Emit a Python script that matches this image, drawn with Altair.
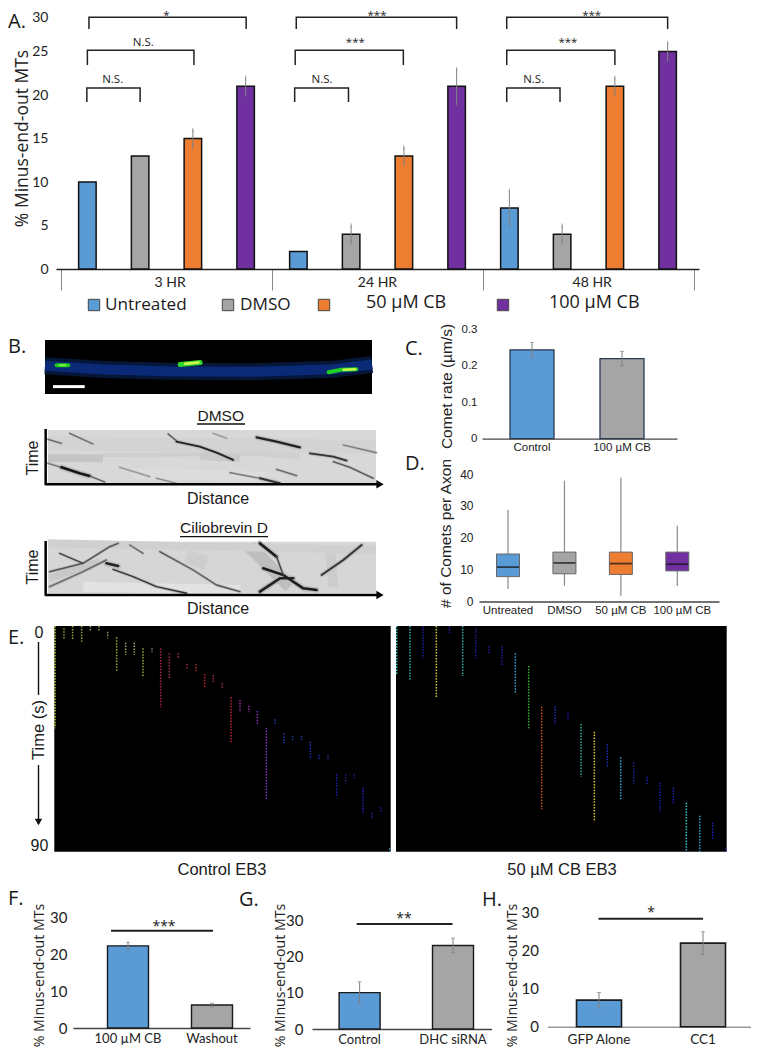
import altair as alt
import pandas as pd

# ---------- palette ----------
BLUE, GRAY, ORANGE, PURPLE = "#5B9BD5", "#A5A5A5", "#ED7D31", "#7030A0"
SANS, CAL, OPEN = "Liberation Sans", "Lato", "Open Sans"
W, H = 743, 1042

# ---------- A ----------
A_values = [10, 13, 15, 21, 2, 4, 13, 21, 7, 4, 21, 25]
A_errors = [0, 0, 1, 1, 0, 1, 1, 2, 2, 1, 1, 1]
A_colors = [BLUE, GRAY, ORANGE, PURPLE] * 3
A_groups = ["3 HR", "24 HR", "48 HR"]
A_group_pos = [2.07, 6.0, 10.07]
A_bracket_x0 = [0.53, 0.50, 0.49, 4.46, 4.44, 4.43, 8.45, 8.45, 8.45]
A_bracket_x1 = [3.51, 2.52, 1.50, 7.50, 6.49, 5.45, 11.50, 10.50, 9.46]
A_bracket_top = [28.95, 25.14, 20.8] * 3
A_bracket_leg = [27.6, 23.45, 19.2] * 3
A_bracket_txt = ["*", "N.S.", "N.S.", "***", "***", "N.S.", "***", "***", "N.S."]
A_bracket_tx = [2.0, 1.56, 0.98, 5.99, 5.58, 4.95, 10.06, 9.61, 8.96]
A_bracket_ty = [29.05, 26.0, 21.75, 29.05, 26.0, 21.75, 29.05, 26.0, 21.75]

# ---------- C ----------
C_cats = ["Control", "100 µM CB"]
C_values = [0.243, 0.219]
C_errors = [0.02, 0.02]
# ---------- D ----------
D_cats = ["Untreated", "DMSO", "50 µM CB", "100 µM CB"]
D_low = [3.9, 4.9, 1.8, 4.9]
D_q1 = [7.8, 8.7, 8.5, 9.6]
D_med = [10.8, 12.1, 11.9, 11.7]
D_q3 = [14.9, 15.5, 15.5, 15.5]
D_high = [28.8, 37.9, 38.8, 23.8]
D_colors = [BLUE, GRAY, ORANGE, PURPLE]
# ---------- F G H ----------
F_cats, F_values, F_errors = ["100 µM CB", "Washout"], [22.2, 6.2], [1.0, 0.5]
G_cats, G_values, G_errors = ["Control", "DHC siRNA"], [10, 23], [3, 2]
H_cats, H_values, H_errors = ["GFP Alone", "CC1"], [7, 22], [2, 3]

# ---------- B: micrograph, read in image units ----------
B_band = [(135, 108), (300, 118), (500, 124), (750, 126), (1000, 118), (1115, 104)]
B_comets = [
    ([(170, 106), (205, 106)], 4, "#1ec81e"),
    ([(178, 106), (197, 106)], 2, "#80f040"),
    ([(540, 104), (600, 98)], 5, "#2ed82a"),
    ([(555, 102), (595, 98)], 2.5, "#d4f850"),
    ([(985, 127), (1020, 120), (1068, 118)], 4, "#22d022"),
    ([(1030, 120), (1065, 118)], 2.5, "#c8f850"),
]
B_scalebar = [(159, 170), (254, 170)]
# ---------- B: kymographs ----------
K1_smudges = [
    ([(145, 385), (310, 385)], 8, "#c4c4c4"),
    ([(310, 375), (800, 372)], 4, "#cecece"),
    ([(600, 378), (720, 385)], 8, "#cacaca"),
    ([(800, 365), (900, 375)], 10, "#d0d0d0"),
    ([(145, 340), (1128, 350)], 14, "#d3d3d3"),
    ([(400, 430), (800, 440)], 10, "#dcdcdc"),
]
K1_tracks = [
    ([(145, 400), (185, 412)], 1.2, "#777777"),
    ([(185, 412), (240, 430), (270, 438)], 2.6, "#151515"),
    ([(270, 438), (315, 456)], 1.2, "#555555"),
    ([(145, 328), (185, 340)], 1.2, "#666666"),
    ([(210, 310), (280, 342)], 1.2, "#666666"),
    ([(505, 312), (530, 332)], 1.2, "#555555"),
    ([(530, 335), (600, 350), (650, 368), (700, 390)], 1.9, "#222222"),
    ([(770, 322), (830, 335), (900, 352)], 2.2, "#222222"),
    ([(930, 370), (1000, 380), (1040, 392)], 1.7, "#333333"),
    ([(1000, 395), (1050, 412), (1120, 445)], 1.3, "#555555"),
    ([(690, 428), (780, 445)], 1.1, "#777777"),
    ([(780, 445), (840, 460)], 2, "#333333"),
    ([(830, 418), (890, 437)], 1.3, "#666666"),
    ([(1030, 345), (1128, 368)], 1.2, "#777777"),
    ([(640, 310), (680, 325)], 1.1, "#999999"),
    ([(360, 412), (450, 440)], 1.1, "#999999"),
    ([(470, 445), (530, 460)], 1.1, "#888888"),
]
K2_smudges = [
    ([(150, 745), (300, 695)], 7, "#c8c8c8"),
    ([(750, 650), (870, 770)], 13, "#bebebe"),
    ([(990, 650), (1000, 770)], 10, "#cccccc"),
    ([(560, 680), (620, 700)], 14, "#cecece"),
    ([(145, 640), (1128, 660)], 8, "#d0d0d0"),
    ([(250, 770), (720, 780)], 10, "#e2e2e2"),
]
K2_tracks = [
    ([(150, 725), (250, 700), (330, 650), (355, 640)], 1.5, "#555555"),
    ([(150, 770), (250, 725), (320, 690)], 1.5, "#666666"),
    ([(180, 670), (250, 700)], 1.3, "#444444"),
    ([(320, 700), (355, 708)], 2.6, "#222222"),
    ([(340, 718), (400, 740), (470, 770), (560, 790)], 1.5, "#333333"),
    ([(390, 645), (430, 670)], 1.3, "#666666"),
    ([(480, 665), (580, 720), (650, 765), (720, 785)], 1.4, "#555555"),
    ([(780, 640), (830, 680)], 2.6, "#1c1c1c"),
    ([(790, 715), (850, 735), (910, 775), (950, 780)], 2.6, "#1c1c1c"),
    ([(780, 785), (840, 745), (880, 745)], 2.6, "#222222"),
    ([(830, 680), (850, 735)], 1.4, "#444444"),
    ([(965, 735), (1030, 690), (1085, 645)], 2, "#333333"),
]
K1_frame = [(138, 297), (138, 463), (1140, 463)]
K2_frame = [(138, 633), (138, 795), (1140, 795)]

# ---------- E: streaks (x, start, end, colour), read in image units ----------
EL_streaks = [
    (165, 18, 325, "#c8e04a"), (192, 25, 57, "#7fa83a"), (218, 18, 57, "#9aa83a"), (245, 18, 65, "#9aa83a"),
    (271, 18, 32, "#9aa060"), (297, 18, 32, "#9a9a50"), (323, 35, 55, "#999977"), (350, 52, 155, "#a0a83c"),
    (377, 68, 105, "#a8a860"), (403, 68, 105, "#a8a860"), (429, 85, 170, "#a0a83c"), (456, 85, 97, "#8a8a60"),
    (482, 85, 262, "#b02040"), (508, 100, 175, "#a03048"), (535, 100, 115, "#a83048"), (561, 132, 148, "#a03040"),
    (588, 132, 155, "#a03040"), (614, 162, 203, "#b02030"), (640, 165, 188, "#a03040"), (667, 190, 203, "#a03040"),
    (693, 232, 370, "#c02040"), (720, 240, 275, "#a030a0"), (746, 257, 277, "#9030a0"), (772, 273, 312, "#8030b0"),
    (799, 323, 540, "#8030c0"), (825, 298, 315, "#2040b0"), (852, 340, 370, "#2040b0"), (878, 348, 360, "#2040a0"),
    (904, 348, 360, "#2040a0"), (931, 365, 418, "#2030b0"), (957, 405, 418, "#2030b0"), (984, 405, 418, "#2030a0"),
    (1010, 462, 533, "#2020b0"), (1037, 462, 490, "#202090"), (1063, 462, 475, "#202090"), (1089, 503, 582, "#2020c0"),
    (1116, 578, 597, "#2020a0"), (1142, 562, 575, "#2020a0"), (1169, 685, 695, "#30a0e0"),
]
ER_streaks = [
    (20, 18, 165, "#40e0d0"), (60, 18, 182, "#30b0a8"), (99, 18, 115, "#2020a8"), (139, 18, 235, "#d0d040"),
    (178, 18, 38, "#2020a0"), (218, 18, 168, "#30b0a8"), (257, 25, 115, "#2020a0"), (297, 78, 102, "#2020a0"),
    (336, 78, 137, "#2020a0"), (376, 100, 220, "#40a0d0"), (416, 138, 325, "#30b030"), (455, 260, 568, "#c85020"),
    (495, 258, 312, "#2030c0"), (534, 277, 298, "#2020b0"), (573, 312, 470, "#30b0a0"), (613, 335, 605, "#d8c830"),
    (652, 373, 440, "#2030c0"), (692, 412, 538, "#30b0d0"), (731, 427, 492, "#2020a0"), (771, 470, 492, "#2020b0"),
    (810, 488, 577, "#2020b0"), (850, 502, 555, "#2020c0"), (889, 548, 695, "#30c8d0"), (929, 587, 695, "#30a8c8"),
    (968, 608, 660, "#2020c0"), (1008, 685, 695, "#3030c0"),
]


# ---------- helpers (positions given in page pixels) ----------
def xs(domain, p0, p1, **kw):
    return alt.Scale(domain=domain, range=[p0 - 8, p1 - 8], nice=False, zero=False, **kw)


def band(cats, x0, x1, c0, c1):
    n = len(cats)
    pi = 0.5
    step = (c1 - c0) / (n - 1)
    span = x1 - x0
    return alt.Scale(domain=cats, range=[x0 - 8, x1 - 8], paddingInner=pi,
                     paddingOuter=(span / step - n + pi) / 2,
                     align=(c0 - step * (1 - pi) / 2 - x0) / (span - step * (n - pi)))


def yaxis(values, ax_x, title, tx, ty, font, size, tfont, tsize, pad=5, color="#222222", **kw):
    return alt.Axis(orient="left", offset=-(ax_x - 8), values=values, grid=False, domain=False, ticks=False,
                    labelFont=font, labelFontSize=size, labelColor=color, labelPadding=pad,
                    title=title, titleFont=tfont, titleFontSize=tsize, titleFontWeight="normal", titleColor=color,
                    titleX=tx - ax_x, titleY=ty - 8, titleAngle=-90, titleAlign="center", titleBaseline="middle", **kw)


def xaxis(base, font, size, color="#222222", dcolor="#444444", dw=1.3, pad=4, **kw):
    return alt.Axis(orient="bottom", offset=-(H - (base - 8)), grid=False, ticks=False, domainColor=dcolor,
                    domainWidth=dw, labelAngle=0, labelFont=font, labelFontSize=size, labelColor=color,
                    labelPadding=pad, title=None, **kw)


def bar_panel(cats, vals, errs, colors, xscale, yscale, xax, yax, bsize, stroke="#1a1a1a", sw=1.5, cap=4):
    df = pd.DataFrame({"c": cats, "v": vals, "b": [0] * len(cats), "col": colors,
                       "lo": [v - e for v, e in zip(vals, errs)], "hi": [v + e for v, e in zip(vals, errs)]})
    base = alt.Chart(df)
    X = alt.X("c:N", scale=xscale, axis=xax, sort=None)
    Y = lambda f: alt.Y(f, scale=yscale, axis=yax)
    bars = base.mark_bar(size=bsize, stroke=stroke, strokeWidth=sw).encode(
        x=X, y=Y("v:Q"), y2="b:Q", color=alt.Color("col:N", scale=None))
    err = base.mark_rule(color="#808080", strokeWidth=1).encode(x=X, y=Y("lo:Q"), y2="hi:Q")
    c1 = base.mark_tick(color="#808080", size=cap, thickness=1).encode(x=X, y=Y("hi:Q"))
    c2 = base.mark_tick(color="#808080", size=cap, thickness=1).encode(x=X, y=Y("lo:Q"))
    return alt.layer(bars, err, c1, c2)


def polylines(items, sx, sy, cap="round"):
    rows = []
    for g, (pts, w, col) in enumerate(items):
        for o, (x, y) in enumerate(pts):
            rows.append({"g": g, "o": o, "x": x, "y": y, "w": w, "col": col})
    return alt.Chart(pd.DataFrame(rows)).mark_line(strokeCap=cap, strokeJoin="round").encode(
        x=alt.X("x:Q", scale=sx, axis=None), y=alt.Y("y:Q", scale=sy, axis=None),
        detail="g:N", order="o:Q", color=alt.Color("col:N", scale=None),
        strokeWidth=alt.StrokeWidth("w:Q", scale=None))


def halos(items):
    return [(pts, w * 2.2, "#bcbcbc") for pts, w, col in items]


def image_bg(x0, x1, y0, y1, sx, sy, color):
    return alt.Chart(pd.DataFrame({"x": [x0], "x2": [x1], "y": [y0], "y2": [y1]})).mark_rect(color=color).encode(
        x=alt.X("x:Q", scale=sx, axis=None), x2="x2:Q", y=alt.Y("y:Q", scale=sy, axis=None), y2="y2:Q")


# ---------- Panel A ----------
ax = xs([0, 12], 56, 699)
ay = xs([0, 30], 269, 8)
a_xaxis = alt.Axis(orient="bottom", offset=-(H - 261), values=[0, 4, 8, 12], grid=False, labels=False, title=None,
                   tickSize=21, tickColor="#888888", domainColor="#222222", domainWidth=1.5)
a_yaxis = yaxis(list(range(0, 31, 5)), 56, "% Minus-end-out MTs", 22.7, 138, CAL, 14, OPEN, 17.5, pad=8,
                labelBaseline={"condition": {"test": "datum.value == 30", "value": "top"}, "value": "middle"},
                labelOffset={"condition": {"test": "datum.value == 30", "value": 2}, "value": 0})
AX = lambda f: alt.X(f, scale=ax, axis=a_xaxis)
AY = lambda f: alt.Y(f, scale=ay, axis=a_yaxis)
df_a = pd.DataFrame({"p": [i + 0.5 for i in range(12)], "v": A_values, "b": [0] * 12, "col": A_colors,
                     "lo": [v - e for v, e in zip(A_values, A_errors)], "hi": [v + e for v, e in zip(A_values, A_errors)],
                     "e": A_errors})
a_bars = alt.Chart(df_a).mark_bar(size=17.5, stroke="#111111", strokeWidth=1.5).encode(
    x=AX("p:Q"), y=AY("v:Q"), y2="b:Q", color=alt.Color("col:N", scale=None))
df_ae = df_a[df_a.e > 0]
a_err = alt.Chart(df_ae).mark_rule(color="#808080", strokeWidth=1).encode(x=AX("p:Q"), y=AY("lo:Q"), y2="hi:Q")
a_c1 = alt.Chart(df_ae).mark_tick(color="#808080", size=4, thickness=1).encode(x=AX("p:Q"), y=AY("hi:Q"))
a_c2 = alt.Chart(df_ae).mark_tick(color="#808080", size=4, thickness=1).encode(x=AX("p:Q"), y=AY("lo:Q"))
rows = []
for i in range(9):
    for o, (x, y) in enumerate([(A_bracket_x0[i], A_bracket_leg[i]), (A_bracket_x0[i], A_bracket_top[i]),
                                (A_bracket_x1[i], A_bracket_top[i]), (A_bracket_x1[i], A_bracket_leg[i])]):
        rows.append({"g": i, "o": o, "x": x, "y": y})
a_br = alt.Chart(pd.DataFrame(rows)).mark_line(color="#222222", strokeWidth=1.5).encode(
    x=AX("x:Q"), y=AY("y:Q"), detail="g:N", order="o:Q")
df_at = pd.DataFrame({"x": A_bracket_tx, "y": A_bracket_ty, "t": A_bracket_txt})
a_ns = alt.Chart(df_at[df_at.t == "N.S."]).mark_text(font=OPEN, fontSize=11.5, color="#222222").encode(
    x=AX("x:Q"), y=AY("y:Q"), text="t:N")
a_st = alt.Chart(df_at[df_at.t != "N.S."]).mark_text(font=OPEN, fontSize=11.5, color="#222222").encode(
    x=AX("x:Q"), y=AY("y:Q"), text="t:N")
a_gr = alt.Chart(pd.DataFrame({"x": A_group_pos, "y": [-1.6] * 3, "t": A_groups})).mark_text(
    font=CAL, fontSize=14, color="#222222").encode(x=AX("x:Q"), y=AY("y:Q"), text="t:N")
panel_a = alt.layer(a_bars, a_err, a_c1, a_c2, a_br, a_ns, a_st, a_gr)

# ---------- Panel C ----------
panel_c = bar_panel(C_cats, C_values, C_errors, [BLUE, GRAY], band(C_cats, 482, 677, 532, 622), xs([0, 0.3], 438.7, 329),
                    xaxis(438.7, SANS, 11.5, pad=3),
                    yaxis([0, 0.1, 0.2, 0.3], 482, "Comet rate (µm/s)", 446, 386, SANS, 11.5, SANS, 15.5,
                          labelExpr="datum.value == 0 ? '0' : format(datum.value, '.1f')"),
                    44, stroke="#2a3a50", sw=1.3)

# ---------- Panel D ----------
dx = band(D_cats, 479, 719, 508, 677.3)
dy = xs([0, 40], 601.5, 474)
d_xa = xaxis(601.5, SANS, 11.5, pad=3,
             labelOffset={"condition": {"test": "datum.value == '100 µM CB'", "value": 5}, "value": 0})
d_ya = yaxis([0, 10, 20, 30, 40], 479, "# of Comets per Axon", 445, 533, SANS, 12, SANS, 15.5, pad=6)
DX = alt.X("c:N", scale=dx, axis=d_xa, sort=None)
DY = lambda f: alt.Y(f, scale=dy, axis=d_ya)
df_d = pd.DataFrame({"c": D_cats, "low": D_low, "q1": D_q1, "med": D_med, "q3": D_q3, "high": D_high, "col": D_colors})
d_wh = alt.Chart(df_d).mark_rule(color="#8a8a8a", strokeWidth=1.2).encode(x=DX, y=DY("low:Q"), y2="high:Q")
d_box = alt.Chart(df_d).mark_bar(size=23, stroke="#666666", strokeWidth=1).encode(
    x=DX, y=DY("q1:Q"), y2="q3:Q", color=alt.Color("col:N", scale=None))
d_med = alt.Chart(df_d).mark_tick(color="#111111", size=22, thickness=1.8).encode(x=DX, y=DY("med:Q"))
panel_d = alt.layer(d_wh, d_box, d_med)

# ---------- Panels F, G, H ----------
panel_f = bar_panel(F_cats, F_values, F_errors, [BLUE, GRAY], band(F_cats, 73, 250, 128, 212), xs([0, 30], 1028, 917),
                    xaxis(1028, CAL, 13), yaxis([0, 10, 20, 30], 73, "% Minus-end-out MTs", 39, 975, CAL, 15, OPEN, 14.2, pad=6),
                    41, sw=1.4)
panel_g = bar_panel(G_cats, G_values, G_errors, [BLUE, GRAY], band(G_cats, 312, 491.5, 359.6, 453), xs([0, 30], 1029, 920),
                    xaxis(1029, CAL, 13), yaxis([0, 10, 20, 30], 312, "% Minus-end-out MTs", 280, 975, CAL, 15, OPEN, 14.2, pad=9),
                    41, sw=1.4)
panel_h = bar_panel(H_cats, H_values, H_errors, [BLUE, GRAY], band(H_cats, 547.5, 751, 599, 703), xs([0, 30], 1026.7, 912.7),
                    xaxis(1026.7, CAL, 13.5, dcolor="#999999", dw=1.5, pad=6),
                    yaxis([0, 10, 20, 30], 547.5, "% Minus-end-out MTs", 512, 975, CAL, 15, OPEN, 14.2, pad=9),
                    45, sw=1.6)

# ---------- Panel B images ----------
b1x, b1y = xs([135, 1115], 45, 372), xs([31, 192], 340, 394)
panel_b1 = alt.layer(
    image_bg(135, 1115, 31, 192, b1x, b1y, "#000000"),
    polylines([(B_band, 17, "#051638"), (B_band, 10, "#0a2a78")], b1x, b1y, cap="butt"),
    polylines(B_comets, b1x, b1y),
    polylines([(B_scalebar, 3, "#ffffff")], b1x, b1y, cap="butt"),
)
k1x, k1y = xs([145, 1128], 48, 376), xs([300, 460], 430, 483.3)
panel_k1 = alt.layer(
    image_bg(145, 1128, 300, 460, k1x, k1y, "#d8d8d8"),
    polylines(K1_smudges, k1x, k1y, cap="butt"),
    polylines(halos(K1_tracks), k1x, k1y),
    polylines(K1_tracks, k1x, k1y),
    polylines([(K1_frame, 2.5, "#000000")], k1x, k1y, cap="butt"),
    alt.Chart(pd.DataFrame({"x": [K1_frame[-1][0]], "y": [K1_frame[-1][1]]})).mark_point(
        shape="triangle-right", filled=True, size=70, color="#000000", opacity=1).encode(
        x=alt.X("x:Q", scale=k1x, axis=None), y=alt.Y("y:Q", scale=k1y, axis=None)),
)
k2x, k2y = xs([145, 1128], 48, 376), xs([635, 790], 541.7, 593.3)
panel_k2 = alt.layer(
    image_bg(145, 1128, 635, 790, k2x, k2y, "#d6d6d6"),
    polylines(K2_smudges, k2x, k2y, cap="butt"),
    polylines(halos(K2_tracks), k2x, k2y),
    polylines(K2_tracks, k2x, k2y),
    polylines([(K2_frame, 2.5, "#000000")], k2x, k2y, cap="butt"),
    alt.Chart(pd.DataFrame({"x": [K2_frame[-1][0]], "y": [K2_frame[-1][1]]})).mark_point(
        shape="triangle-right", filled=True, size=70, color="#000000", opacity=1).encode(
        x=alt.X("x:Q", scale=k2x, axis=None), y=alt.Y("y:Q", scale=k2y, axis=None)),
)


# ---------- Panel E ----------
def streak_panel(streaks, x0, x1, p0, p1):
    sx, sy = xs([x0, x1], p0, p1), xs([18, 695], 626, 851.7)
    df = pd.DataFrame(streaks, columns=["x", "y0", "y1", "col"])
    return alt.layer(
        image_bg(x0, x1, 18, 695, sx, sy, "#000000"),
        alt.Chart(df).mark_rule(strokeWidth=1.5, strokeDash=[1.5, 1.4]).encode(
            x=alt.X("x:Q", scale=sx, axis=None), y=alt.Y("y0:Q", scale=sy, axis=None), y2="y1:Q",
            color=alt.Color("col:N", scale=None)),
    )


panel_el = streak_panel(EL_streaks, 163, 1172, 54.3, 390.7)
panel_er = streak_panel(ER_streaks, 18, 1010, 396, 726.7)

# ---------- page-level annotations (page pixels) ----------
px, py = xs([0, 759], 0, 759), xs([0, 1050], 0, 1050)


def texts(items, size, font=SANS, color="#1a1a1a", angle=0, align="center"):
    df = pd.DataFrame(items, columns=["t", "x", "y"])
    return alt.Chart(df).mark_text(font=font, fontSize=size, color=color, angle=angle, align=align, baseline="middle").encode(
        x=alt.X("x:Q", scale=px, axis=None), y=alt.Y("y:Q", scale=py, axis=None), text="t:N")


def hlines(items, width, color):
    df = pd.DataFrame(items, columns=["x0", "x1", "y"])
    return alt.Chart(df).mark_rule(strokeWidth=width, color=color).encode(
        x=alt.X("x0:Q", scale=px, axis=None), x2="x1:Q", y=alt.Y("y:Q", scale=py, axis=None))


def vlines(items, width, color):
    df = pd.DataFrame(items, columns=["x", "y0", "y1"])
    return alt.Chart(df).mark_rule(strokeWidth=width, color=color).encode(
        x=alt.X("x:Q", scale=px, axis=None), y=alt.Y("y0:Q", scale=py, axis=None), y2="y1:Q")


swatches = pd.DataFrame({"x": [94, 228, 324, 503], "y": [305] * 4, "col": [BLUE, GRAY, ORANGE, PURPLE]})
page = alt.layer(
    alt.Chart(swatches).mark_square(size=130, opacity=1, stroke="#444444", strokeWidth=1).encode(
        x=alt.X("x:Q", scale=px, axis=None), y=alt.Y("y:Q", scale=py, axis=None), color=alt.Color("col:N", scale=None)),
    texts([("Untreated", 105, 305), ("DMSO", 240, 305)], 17.2, OPEN, align="left"),
    texts([("50 µM CB", 366, 303), ("100 µM CB", 549, 303)], 18, OPEN, align="left"),
    texts([("A.", 8, 22), ("B.", 8, 347), ("C.", 405, 349), ("D.", 405, 464), ("E.", 8, 638), ("F.", 8, 899),
           ("G.", 239, 900), ("H.", 482, 900)], 20, OPEN, align="left"),
    texts([("DMSO", 220.7, 416), ("Ciliobrevin D", 224, 528)], 15.5),
    hlines([(197, 245, 424), (180, 268, 536.7)], 1.3, "#111111"),
    texts([("Distance", 218, 499), ("Distance", 218, 609)], 16),
    texts([("Time", 33, 458), ("Time", 33, 567)], 16, angle=270),
    texts([("0", 39, 633), ("90", 39.5, 846)], 16),
    texts([("Time (s)", 38.5, 730)], 16.5, angle=270),
    vlines([(38.5, 642, 695), (38.5, 765, 824)], 1.4, "#111111"),
    alt.Chart(pd.DataFrame({"x": [38.5], "y": [822]})).mark_point(
        shape="triangle-down", filled=True, size=55, color="#111111", opacity=1).encode(
        x=alt.X("x:Q", scale=px, axis=None), y=alt.Y("y:Q", scale=py, axis=None)),
    texts([("Control EB3", 222, 870), ("50 µM CB EB3", 562, 870)], 16.5),
    hlines([(111, 213, 930.7), (356.7, 452.5, 924), (598.5, 703, 918.7)], 2, "#222222"),
    texts([("***", 164, 927), ("**", 404, 919), ("*", 651, 913)], 14, OPEN),
)

chart = alt.layer(panel_a, panel_b1, panel_k1, panel_k2, panel_c, panel_d, panel_el, panel_er,
                  panel_f, panel_g, panel_h, page).resolve_scale(x="independent", y="independent").properties(
    width=W, height=H, padding=0, autosize=alt.AutoSizeParams(type="none"), background="#ffffff"
).configure_view(stroke=None)

chart.save("out.html", embed_options={"renderer": "svg", "actions": False})
